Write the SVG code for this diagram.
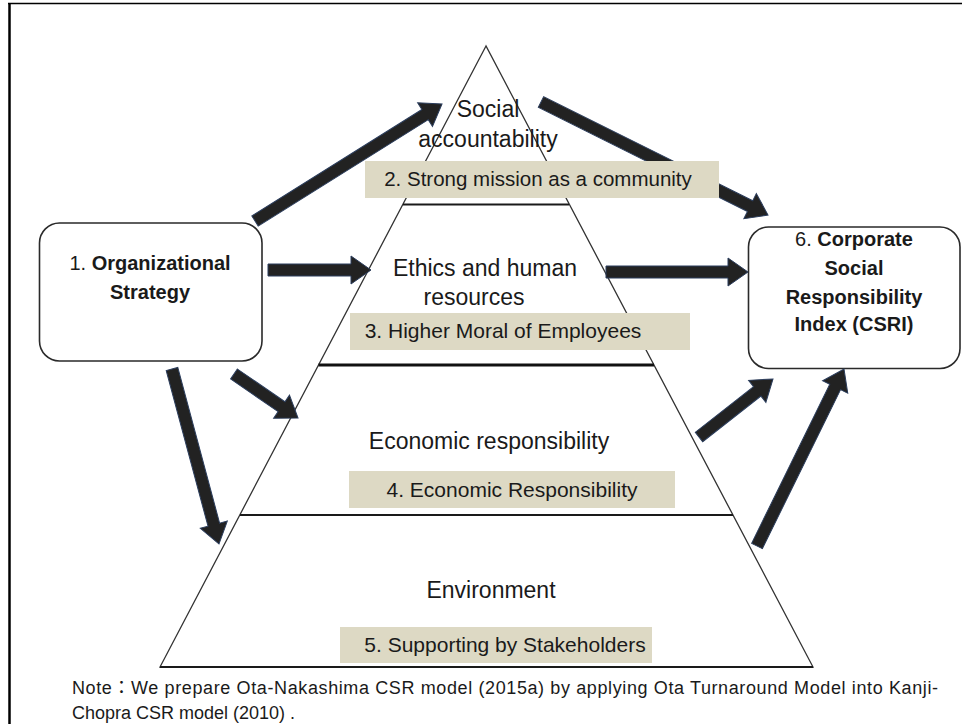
<svg xmlns="http://www.w3.org/2000/svg" width="962" height="724" viewBox="0 0 962 724">
  <style>
    .t { font-family: "Liberation Sans", Arial, sans-serif; fill: #1a1a1a; text-anchor: middle; }
    .lvl { font-size: 23px; }
    .lbl { font-size: 21px; }
    .node { font-size: 20px; }
    .b { font-weight: bold; }
    .tag { fill: #ddd9c4; }
    .box { fill: #ffffff; stroke: #2a2a2a; stroke-width: 1.6; }
    .arrow { fill: #222222; stroke: #2b3d5c; stroke-width: 1; }
    .note { font-family: "Liberation Sans", "Noto Sans CJK JP", Arial, sans-serif; font-size: 18px; fill: #1a1a1a; }
  </style>

  <rect x="0" y="0" width="962" height="724" fill="#ffffff"/>

  <!-- page frame -->
  <g id="frame" stroke="#000000" fill="none">
    <line x1="9.5" y1="3" x2="9.5" y2="724" stroke-width="2.5"/>
    <line x1="8" y1="3.5" x2="962" y2="3.5" stroke-width="1.5"/>
  </g>

  <!-- pyramid outline and layer divisions -->
  <g id="pyramid">
    <polygon points="486,46 160,667 813,667" fill="#ffffff" stroke="#333333" stroke-width="1.3"/>
    <line x1="403" y1="204.5" x2="569" y2="204.5" stroke="#1a1a1a" stroke-width="2"/>
    <line x1="318.5" y1="365" x2="654" y2="365" stroke="#111111" stroke-width="3.2"/>
    <line x1="240" y1="515" x2="733" y2="515" stroke="#1a1a1a" stroke-width="2"/>
    <line x1="160" y1="667" x2="813" y2="667" stroke="#1a1a1a" stroke-width="2"/>
  </g>

  <!-- layer 3: ethics and human resources -->
  <g id="layer-ethics">
    <text class="t lvl" x="485" y="276">Ethics and human</text>
    <text class="t lvl" x="474" y="305">resources</text>
    <rect class="tag" x="350" y="313" width="340" height="37"/>
    <text class="t lbl" x="503" y="338">3. Higher Moral of Employees</text>
  </g>

  <!-- layer 4: economic responsibility -->
  <g id="layer-economic">
    <text class="t lvl" x="489" y="449">Economic responsibility</text>
    <rect class="tag" x="349" y="471" width="326" height="37"/>
    <text class="t lbl" x="512" y="497">4. Economic Responsibility</text>
  </g>

  <!-- layer 5: environment -->
  <g id="layer-environment">
    <text class="t lvl" x="491" y="598">Environment</text>
    <rect class="tag" x="340" y="627" width="312" height="36"/>
    <text class="t lbl" x="505" y="652">5. Supporting by Stakeholders</text>
  </g>

  <!-- node 1 -->
  <g id="node-strategy">
    <rect class="box" x="39.5" y="223" width="222.5" height="138" rx="20" ry="20"/>
    <text class="t node" x="150" y="270">1. <tspan class="b">Organizational</tspan></text>
    <text class="t node b" x="150" y="299">Strategy</text>
  </g>

  <!-- node 6 -->
  <g id="node-csri">
    <rect class="box" x="748.5" y="227" width="211.5" height="141.5" rx="20" ry="20"/>
    <text class="t node" x="854" y="246">6. <tspan class="b">Corporate</tspan></text>
    <text class="t node b" x="854" y="275">Social</text>
    <text class="t node b" x="854" y="304">Responsibility</text>
    <text class="t node b" x="854" y="331">Index (CSRI)</text>
  </g>

  <!-- connectors: block arrows, each laid out along +x from its tail -->
  <g id="connectors">
    <g transform="translate(255,221) rotate(-32.03)">
      <polygon class="arrow" points="0,-6 200.6,-6 200.6,-14 220.6,0 200.6,14 200.6,6 0,6"/>
    </g>
    <g transform="translate(541,102) rotate(26.47)">
      <polygon class="arrow" points="0,-6 233.6,-6 233.6,-14 253.6,0 233.6,14 233.6,6 0,6"/>
    </g>
    <g transform="translate(268,270)">
      <polygon class="arrow" points="0,-6 83,-6 83,-14 103,0 83,14 83,6 0,6"/>
    </g>
    <g transform="translate(606,272)">
      <polygon class="arrow" points="0,-6 122,-6 122,-14 142,0 122,14 122,6 0,6"/>
    </g>
    <g transform="translate(234,374) rotate(34.51)">
      <polygon class="arrow" points="0,-6 57.7,-6 57.7,-14 77.7,0 57.7,14 57.7,6 0,6"/>
    </g>
    <g transform="translate(172,369) rotate(74.97)">
      <polygon class="arrow" points="0,-6 161.2,-6 161.2,-14 181.2,0 161.2,14 161.2,6 0,6"/>
    </g>
    <g transform="translate(699,437) rotate(-38.09)">
      <polygon class="arrow" points="0,-6 74,-6 74,-14 94,0 74,14 74,6 0,6"/>
    </g>
    <g transform="translate(757,546) rotate(-63.82)">
      <polygon class="arrow" points="0,-6 177.2,-6 177.2,-14 197.2,0 177.2,14 177.2,6 0,6"/>
    </g>
  </g>

  <!-- layer 2: social accountability (its label strip sits over the passing arrow) -->
  <g id="layer-social">
    <text class="t lvl" x="488" y="117">Social</text>
    <text class="t lvl" x="488" y="147">accountability</text>
    <rect class="tag" x="365" y="161" width="354" height="37"/>
    <text class="t lbl" x="538" y="186" style="font-size:20.5px">2. Strong mission as a community</text>
  </g>

  <!-- source note -->
  <g id="note">
    <text class="note" x="72" y="694" textLength="866" lengthAdjust="spacing">Note：We prepare Ota-Nakashima CSR model (2015a) by applying Ota Turnaround Model into Kanji-</text>
    <text class="note" x="72" y="719">Chopra CSR model (2010) .</text>
  </g>
</svg>
